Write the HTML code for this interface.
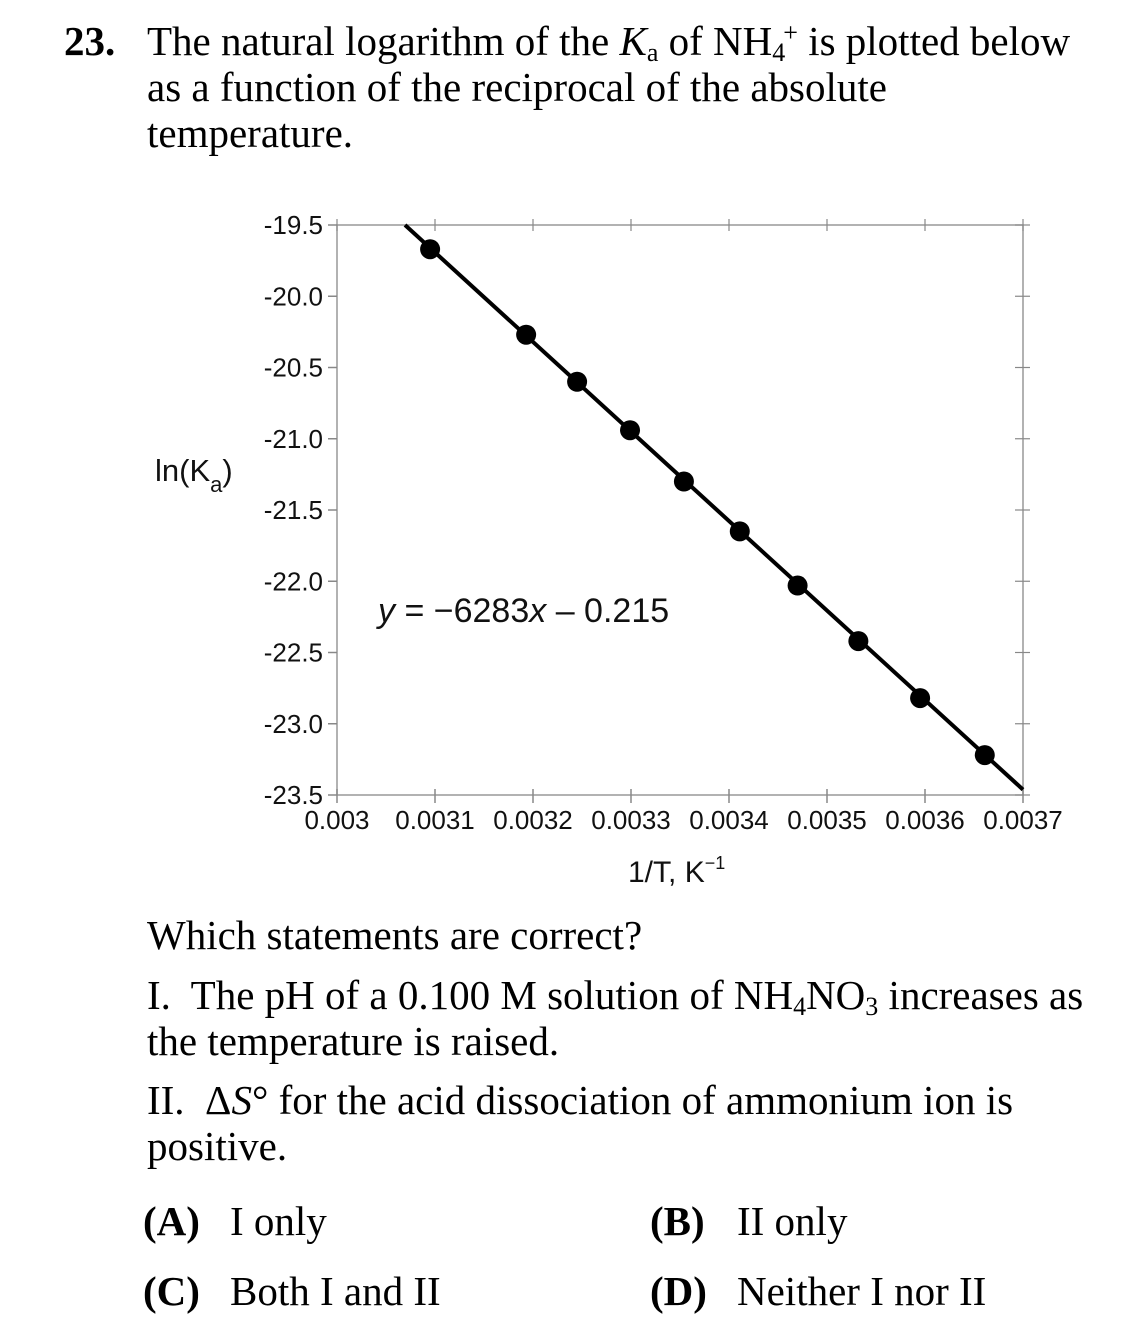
<!DOCTYPE html>
<html><head><meta charset="utf-8"><style>
body{margin:0;background:#fff;width:1145px;height:1338px;position:relative;overflow:hidden;font-family:"Liberation Serif",serif;color:#000}
.t{position:absolute;font-size:41px;line-height:46px;white-space:nowrap}
sub,sup{font-size:26px;line-height:0}
sub{vertical-align:-6px}
sup{vertical-align:14px}
svg{position:absolute;left:0;top:0}
svg text{font-family:"Liberation Sans",sans-serif}
</style></head><body>
<div class="t" style="left:64px;top:18px;font-weight:bold">23.</div>
<div class="t" style="left:147px;top:18px">The natural logarithm of the <i>K</i><sub>a</sub> of NH<sub>4</sub><sup style="margin-left:-2px">+</sup> is plotted below<br>as a function of the reciprocal of the absolute<br>temperature.</div>

<svg id="chart" width="1145" height="900"></svg>

<div class="t" style="left:147px;top:912px">Which statements are correct?</div>
<div class="t" style="left:147px;top:972px">I.&nbsp; The pH of a 0.100 M solution of NH<sub>4</sub>NO<sub>3</sub> increases as<br>the temperature is raised.</div>
<div class="t" style="left:147px;top:1077px">II.&nbsp; Δ<i>S</i>° for the acid dissociation of ammonium ion is<br>positive.</div>
<div class="t" style="left:143px;top:1198px"><b>(A)</b><span style="position:absolute;left:87px">I only</span></div>
<div class="t" style="left:650px;top:1198px"><b>(B)</b><span style="position:absolute;left:87px">II only</span></div>
<div class="t" style="left:143px;top:1268px"><b>(C)</b><span style="position:absolute;left:87px">Both I and II</span></div>
<div class="t" style="left:650px;top:1268px"><b>(D)</b><span style="position:absolute;left:87px">Neither I nor II</span></div>

<script>
const xTicks=[0.003,0.0031,0.0032,0.0033,0.0034,0.0035,0.0036,0.0037];
const xTickLabels=["0.003","0.0031","0.0032","0.0033","0.0034","0.0035","0.0036","0.0037"];
const yTicks=[-19.5,-20,-20.5,-21,-21.5,-22,-22.5,-23,-23.5];
const yTickLabels=["-19.5","-20.0","-20.5","-21.0","-21.5","-22.0","-22.5","-23.0","-23.5"];
const invT=[0.003095,0.003193,0.003245,0.003299,0.003354,0.003411,0.003470,0.003532,0.003595,0.003661];
const lnKa=[-19.67,-20.27,-20.60,-20.94,-21.30,-21.65,-22.03,-22.42,-22.82,-23.22];
const fitSlope=[-6283];
const fitIntercept=[-0.215];

const svg=document.getElementById('chart');
const NS='http://www.w3.org/2000/svg';
const L=337,R=1023,T=225,B=795;
const xs=v=>L+(v-0.003)/0.0007*(R-L);
const ys=v=>T+(-19.5-v)/4*(B-T);
function mk(tag,attrs,parent){const e=document.createElementNS(NS,tag);for(const k in attrs)e.setAttribute(k,attrs[k]);(parent||svg).appendChild(e);return e;}

const frame=mk('rect',{x:L,y:T,width:R-L,height:B-T,fill:'none',stroke:'#999','stroke-width':1.5});



yTicks.forEach((v,i)=>{
  const y=ys(v);
  const t1=mk('line',{x1:L-9,x2:L,y1:y,y2:y,stroke:'#888','stroke-width':1.5});
  
  
  const t2=mk('line',{x1:R-8,x2:R+7,y1:y,y2:y,stroke:'#888','stroke-width':1.2});
  
  
  const lb=mk('text',{x:L-14,y:y+9,'text-anchor':'end','font-size':26,fill:'#111'});
  lb.textContent=yTickLabels[i];
  
  
});
xTicks.forEach((v,i)=>{
  const x=xs(v);
  const t1=mk('line',{x1:x,x2:x,y1:B-6,y2:B+8,stroke:'#888','stroke-width':1.5});
  
  
  const t2=mk('line',{x1:x,x2:x,y1:T-6,y2:T+6,stroke:'#888','stroke-width':1.2});
  
  
  const lb=mk('text',{x:x,y:B+34,'text-anchor':'middle','font-size':26,fill:'#111'});
  lb.textContent=xTickLabels[i];
  
  
});

const m=fitSlope[0],b=fitIntercept[0];
const xa=(-19.5-b)/m,xb=0.0037;
const fl=mk('line',{x1:xs(xa),y1:ys(m*xa+b),x2:xs(xb),y2:ys(m*xb+b),stroke:'#000','stroke-width':4});



invT.forEach((v,i)=>{
  const c=mk('circle',{cx:xs(v),cy:ys(lnKa[i]),r:10,fill:'#000'});
  
  
});

const eq=mk('text',{x:378,y:622,'font-size':34,fill:'#111'});
eq.innerHTML='<tspan font-style="italic">y</tspan> = −6283<tspan font-style="italic">x</tspan> – 0.215';



const yl=mk('text',{x:155,y:481,'font-size':31,fill:'#111'});
yl.innerHTML='ln(K<tspan font-size="22" dy="11">a</tspan><tspan dy="-11">)</tspan>';



const xl=mk('text',{x:628,y:882,'font-size':30,fill:'#111'});
xl.innerHTML='1/T, K<tspan font-size="18" dy="-13">−1</tspan>';


</script>
</body></html>
